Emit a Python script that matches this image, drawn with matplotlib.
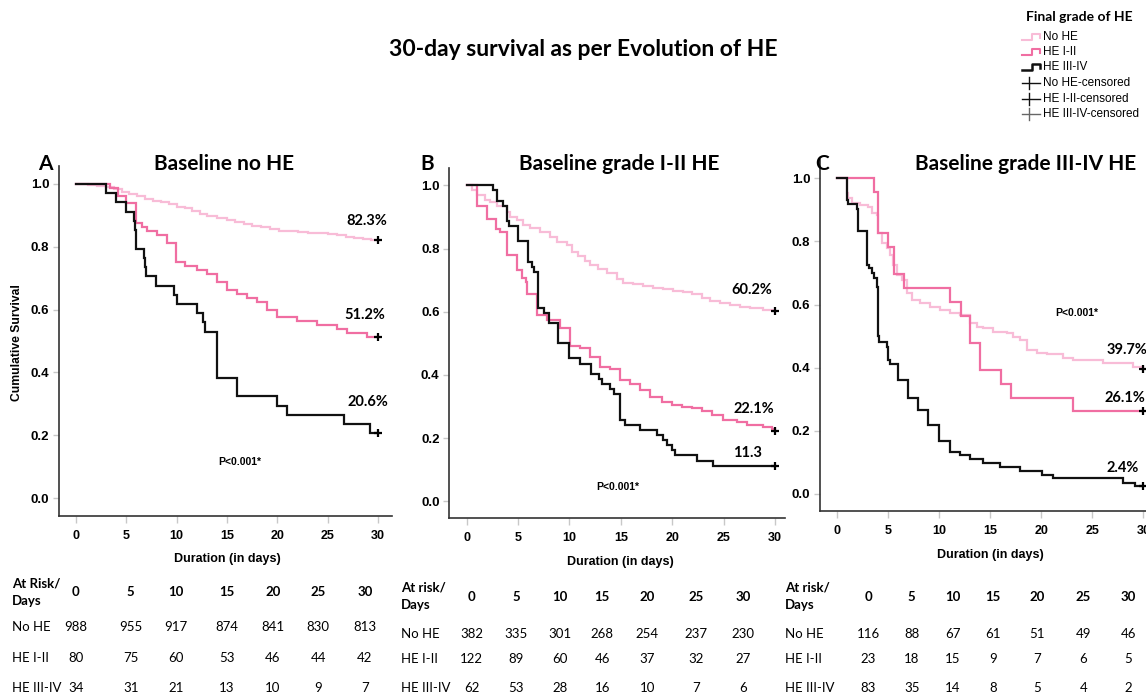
import matplotlib
matplotlib.use('Agg')
import matplotlib.pyplot as plt
from matplotlib.lines import Line2D

# ---------------- data ----------------
days_ticks = [0, 5, 10, 15, 20, 25, 30]
groups = ["No HE", "HE I-II", "HE III-IV"]

# Panel A: baseline no HE
A_noHE_t = [0, 1.2, 2.1, 3.0, 3.8, 4.6, 5.3, 6.1, 6.9, 7.6, 8.4, 9.2, 10.0, 10.8, 11.5, 12.3, 13.0, 14.0,
            15.0, 15.8, 16.7, 17.5, 18.4, 19.3, 20.2, 21.0, 22.0, 23.0, 24.2, 25.0, 25.9, 26.8, 27.6, 28.5, 29.3, 30]
A_noHE_s = [1.0, 0.997, 0.993, 0.99, 0.983, 0.975, 0.967, 0.96, 0.953, 0.947, 0.941, 0.935, 0.928, 0.922, 0.915,
            0.905, 0.898, 0.892, 0.885, 0.879, 0.873, 0.867, 0.862, 0.857, 0.851, 0.849, 0.847, 0.845, 0.843, 0.840,
            0.836, 0.832, 0.829, 0.826, 0.823, 0.823]
A_I_t = [0, 3.38, 4.2, 4.97, 5.96, 6.52, 7.02, 8.01, 9.0, 9.9, 10.82, 11.98, 12.98, 13.97, 14.96, 15.96, 16.95,
         17.94, 18.94, 19.93, 21.92, 23.9, 25.89, 26.88, 28.87, 30]
A_I_s = [1.0, 0.988, 0.963, 0.938, 0.875, 0.863, 0.850, 0.838, 0.813, 0.750, 0.738, 0.725, 0.713, 0.688, 0.663,
         0.650, 0.638, 0.625, 0.600, 0.575, 0.563, 0.550, 0.538, 0.525, 0.512, 0.512]
A_III_t = [0, 3.0, 3.94, 4.97, 5.8, 5.9, 5.96, 6.76, 6.85, 6.93, 7.95, 9.73, 10.0, 11.98, 12.64, 12.8, 14.03,
           16.0, 19.99, 20.98, 26.6, 29.2, 30]
A_III_s = [1.0, 0.971, 0.941, 0.912, 0.882, 0.853, 0.794, 0.765, 0.735, 0.706, 0.676, 0.647, 0.618, 0.588, 0.559,
           0.529, 0.382, 0.324, 0.294, 0.265, 0.235, 0.206, 0.206]

# Panel B: baseline grade I-II HE
B_noHE_t = [0, 0.49, 1.03, 1.78, 2.27, 2.92, 3.89, 4.21, 4.86, 5.51, 6.16, 7.13, 8.1, 8.75, 9.73, 10.21, 10.86,
            11.51, 12.0, 12.8, 13.62, 14.59, 15.24, 16.21, 17.18, 18.15, 19.13, 20.1, 21.07, 21.89, 22.86, 23.67,
            24.64, 25.61, 26.59, 27.56, 28.86, 29.83, 30]
B_noHE_s = [1.0, 0.985, 0.97, 0.955, 0.948, 0.935, 0.915, 0.90, 0.89, 0.874, 0.866, 0.853, 0.835, 0.822, 0.81,
            0.79, 0.775, 0.76, 0.748, 0.735, 0.722, 0.705, 0.692, 0.688, 0.682, 0.676, 0.671, 0.666, 0.662, 0.655,
            0.643, 0.635, 0.628, 0.62, 0.614, 0.611, 0.607, 0.603, 0.602]
B_I_t = [0, 1.03, 1.95, 2.85, 3.24, 3.89, 4.86, 5.35, 5.77, 5.9, 6.81, 7.78, 9.08, 10.05, 11.02, 12.0, 12.97,
         13.94, 14.91, 15.89, 16.86, 17.83, 18.97, 19.94, 20.91, 21.89, 22.86, 23.83, 24.96, 26.26, 27.24, 28.85,
         29.67, 30]
B_I_s = [1.0, 0.935, 0.892, 0.863, 0.852, 0.78, 0.732, 0.706, 0.695, 0.656, 0.59, 0.573, 0.548, 0.492, 0.484,
         0.457, 0.426, 0.418, 0.385, 0.372, 0.353, 0.33, 0.313, 0.306, 0.298, 0.295, 0.287, 0.273, 0.257, 0.25,
         0.242, 0.236, 0.228, 0.221]
B_III_t = [0, 2.59, 2.98, 3.5, 3.95, 4.15, 5.02, 6.0, 6.32, 6.55, 6.97, 7.52, 8.04, 8.91, 9.98, 11.02, 12.09,
           12.87, 13.19, 13.94, 14.36, 14.91, 15.4, 16.86, 18.48, 19.13, 19.45, 19.94, 20.26, 22.37, 23.99, 30]
B_III_s = [1.0, 0.984, 0.952, 0.935, 0.887, 0.871, 0.823, 0.758, 0.742, 0.726, 0.613, 0.597, 0.565, 0.5, 0.452,
           0.435, 0.403, 0.387, 0.371, 0.355, 0.339, 0.258, 0.242, 0.226, 0.21, 0.194, 0.177, 0.161, 0.145, 0.129,
           0.113, 0.113]

# Panel C: baseline grade III-IV HE
C_noHE_t = [0, 0.92, 1.08, 1.41, 2.23, 3.04, 3.37, 3.86, 4.02, 4.35, 4.84, 5.17, 5.49, 5.82, 6.31, 6.8, 7.29,
            8.11, 9.09, 10.07, 11.05, 12.03, 13.01, 13.67, 14.31, 15.29, 16.6, 17.25, 17.91, 18.57, 19.55, 20.53,
            22.16, 23.14, 26.08, 29.02, 30]
C_noHE_s = [1.0, 0.952, 0.936, 0.923, 0.915, 0.91, 0.89, 0.885, 0.826, 0.794, 0.778, 0.757, 0.726, 0.694, 0.678,
            0.636, 0.614, 0.604, 0.593, 0.583, 0.572, 0.567, 0.541, 0.53, 0.525, 0.514, 0.509, 0.498, 0.488, 0.456,
            0.446, 0.442, 0.43, 0.424, 0.415, 0.403, 0.397]
C_I_t = [0, 3.6, 3.96, 4.94, 5.6, 6.57, 11.05, 12.13, 13.01, 13.99, 16.05, 17.03, 23.14, 30]
C_I_s = [1.0, 0.957, 0.826, 0.783, 0.696, 0.652, 0.609, 0.565, 0.478, 0.391, 0.348, 0.304, 0.261, 0.261]
C_III_t = [0, 0.92, 1.0, 1.9, 2.0, 2.94, 3.14, 3.37, 3.63, 3.86, 3.96, 4.12, 4.9, 5.0, 5.17, 5.98, 6.96, 7.94,
           8.92, 10.0, 11.05, 12.03, 13.01, 14.31, 15.95, 17.91, 20.04, 21.18, 28.04, 29.19, 30]
C_III_s = [1.0, 0.93, 0.917, 0.904, 0.833, 0.726, 0.715, 0.699, 0.683, 0.657, 0.5, 0.482, 0.466, 0.424, 0.413,
           0.361, 0.303, 0.266, 0.218, 0.167, 0.133, 0.122, 0.109, 0.097, 0.086, 0.073, 0.06, 0.049, 0.035, 0.024,
           0.024]

A_final_labels = ["82.3%", "51.2%", "20.6%"]
B_final_labels = ["60.2%", "22.1%", "11.3"]
C_final_labels = ["39.7%", "26.1%", "2.4%"]

A_risk = [[988, 955, 917, 874, 841, 830, 813], [80, 75, 60, 53, 46, 44, 42], [34, 31, 21, 13, 10, 9, 7]]
B_risk = [[382, 335, 301, 268, 254, 237, 230], [122, 89, 60, 46, 37, 32, 27], [62, 53, 28, 16, 10, 7, 6]]
C_risk = [[116, 88, 67, 61, 51, 49, 46], [23, 18, 15, 9, 7, 6, 5], [83, 35, 14, 8, 5, 4, 2]]

panel_letters = ["A", "B", "C"]
panel_titles = ["Baseline no HE", "Baseline grade I-II HE", "Baseline grade III-IV HE"]
legend_labels = ["No HE", "HE I-II", "HE III-IV", "No HE-censored", "HE I-II-censored", "HE III-IV-censored"]

# ---------------- style ----------------
W, H = 1146, 697
C_LIGHT = "#F8BCD7"
C_PINK = "#F06EA2"
C_BLACK = "#111111"
colors = [C_LIGHT, C_PINK, C_BLACK]
CAL = "Lato"
ARI = "Liberation Sans"
TFS = 9.5

fig = plt.figure(figsize=(W / 100, H / 100), dpi=100)


def fxy(x, y):
    return x / W, 1 - y / H


def ftext(x, y, s, **kw):
    fx, fy = fxy(x, y)
    fig.text(fx, fy, s, **kw)


def add_axes_px(l, t, r, b):
    return fig.add_axes([l / W, 1 - b / H, (r - l) / W, (b - t) / H])


panels = [
    dict(box=(59, 166, 392, 516), xlim=(-1.69, 31.38), ylim=(-0.057, 1.057),
         curves=[(A_noHE_t, A_noHE_s), (A_I_t, A_I_s), (A_III_t, A_III_s)],
         finals=A_final_labels, final_pos=[(367, 221), (365, 315), (368, 402)], p_pos=(240, 462),
         risk=A_risk, xlab=(227, 559), head=("At Risk/", "Days"),
         rcol=[76, 130.7, 176, 226.7, 272.7, 318.3, 365], rlab_x=12,
         rhead_y=(584, 601), rnum_y=592, rows_y=[627, 658, 688], letter_x=45, title_x=224),
    dict(box=(449.3, 168, 785, 518), xlim=(-1.69, 30.96), ylim=(-0.053, 1.055),
         curves=[(B_noHE_t, B_noHE_s), (B_I_t, B_I_s), (B_III_t, B_III_s)],
         finals=B_final_labels, final_pos=[(752, 290), (754, 409), (748, 453)], p_pos=(618, 487),
         risk=B_risk, xlab=(620, 562), head=("At risk/", "Days"),
         rcol=[471.7, 516, 560, 602.3, 647.3, 696, 743.3], rlab_x=400.7,
         rhead_y=(588, 605), rnum_y=597, rows_y=[634, 659, 688], letter_x=427, title_x=619),
    dict(box=(820, 160, 1160, 511), xlim=(-1.70, 31.64), ylim=(-0.0545, 1.058),
         curves=[(C_noHE_t, C_noHE_s), (C_I_t, C_I_s), (C_III_t, C_III_s)],
         finals=C_final_labels, final_pos=[(1127, 350), (1125, 398), (1123, 468)], p_pos=(1077, 313),
         risk=C_risk, xlab=(990, 555), head=("At risk/", "Days"),
         rcol=[868.3, 911.7, 952.7, 993.3, 1037.3, 1083.3, 1128.3], rlab_x=785,
         rhead_y=(588, 605), rnum_y=597, rows_y=[634, 659, 688], letter_x=822, title_x=1026),
]

for i, p in enumerate(panels):
    ax = add_axes_px(*p["box"])
    ax.set_xlim(*p["xlim"])
    ax.set_ylim(*p["ylim"])
    for (t, s), col in zip(p["curves"], colors):
        ax.step(t, s, where="post", color=col, lw=1.6, solid_joinstyle="miter")
    for (t, s) in p["curves"]:
        ax.plot([t[-1]], [s[-1]], marker="+", ms=6, mew=1.6, color="black", clip_on=False)
    for sp in ["top", "right"]:
        ax.spines[sp].set_visible(False)
    for sp in ["left", "bottom"]:
        ax.spines[sp].set_color("#333333")
        ax.spines[sp].set_linewidth(1.2)
    ax.set_xticks(days_ticks)
    ax.set_yticks([0.0, 0.2, 0.4, 0.6, 0.8, 1.0])
    ax.set_xticklabels([str(d) for d in days_ticks], fontfamily=ARI, fontweight="bold", fontsize=9)
    ax.set_yticklabels(["0.0", "0.2", "0.4", "0.6", "0.8", "1.0"], fontfamily=ARI, fontweight="bold",
                       fontsize=9.5)
    ax.tick_params(axis="x", length=5, width=1, color="#c8c8c8", pad=5)
    ax.tick_params(axis="y", length=4, width=1, color="#c8c8c8", pad=3)
    ax.patch.set_alpha(0)

    # titles
    ftext(p["letter_x"], 164, panel_letters[i], fontfamily=CAL, fontweight="bold", fontsize=15,
          ha="center", va="center")
    ftext(p["title_x"], 164, panel_titles[i], fontfamily=CAL, fontweight="bold", fontsize=15,
          ha="center", va="center")
    # final labels
    for lab, (x, y) in zip(p["finals"], p["final_pos"]):
        ftext(x, y, lab, fontfamily=CAL, fontweight="bold", fontsize=10.5, ha="center", va="center")
    ftext(p["p_pos"][0], p["p_pos"][1], "P<0.001*", fontfamily=ARI, fontweight="bold", fontsize=7.5,
          ha="center", va="center")
    ftext(p["xlab"][0], p["xlab"][1], "Duration (in days)", fontfamily=ARI, fontweight="bold", fontsize=9,
          ha="center", va="center")

    # at-risk table
    ftext(p["rlab_x"], p["rhead_y"][0], p["head"][0], fontfamily=CAL, fontweight="bold", fontsize=TFS,
          ha="left", va="center")
    ftext(p["rlab_x"], p["rhead_y"][1], p["head"][1], fontfamily=CAL, fontweight="bold", fontsize=TFS,
          ha="left", va="center")
    for x, d in zip(p["rcol"], days_ticks):
        ftext(x, p["rnum_y"], str(d), fontfamily=CAL, fontweight="bold", fontsize=TFS, ha="center", va="center")
    for g, row, y in zip(groups, p["risk"], p["rows_y"]):
        ftext(p["rlab_x"], y, g, fontfamily=CAL, fontsize=TFS, ha="left", va="center")
        for x, v in zip(p["rcol"], row):
            ftext(x, y, str(v), fontfamily=CAL, fontsize=TFS, ha="center", va="center")

ftext(17, 343, "Cumulative Survival", fontfamily=ARI, fontweight="bold", fontsize=8.7, rotation=90,
      ha="center", va="center")

# main title
ftext(583, 50, "30-day survival as per Evolution of HE", fontfamily=CAL, fontweight="bold", fontsize=16.5,
      ha="center", va="center")

# legend (drawn manually)
ftext(1079, 17, "Final grade of HE", fontfamily=CAL, fontweight="bold", fontsize=10, ha="center", va="center")
leg_y = [37, 52, 67, 83, 99, 114]
icon_cols = [C_LIGHT, C_PINK, C_BLACK, "#111111", "#111111", "#666666"]
for k, (lab, y, col) in enumerate(zip(legend_labels, leg_y, icon_cols)):
    if k < 3:
        xs = [1022, 1032, 1032, 1040, 1040]
        ys = [y + 3, y + 3, y - 3, y - 3, y + 1]
        pts = [fxy(a, b) for a, b in zip(xs, ys)]
        fig.add_artist(Line2D([q[0] for q in pts], [q[1] for q in pts], color=col, lw=1.8 if k == 2 else 1.5,
                              transform=fig.transFigure))
    else:
        a0, b0 = fxy(1022, y)
        a1, b1 = fxy(1040, y)
        fig.add_artist(Line2D([a0, a1], [b0, b1], color=col, lw=1.0, transform=fig.transFigure))
        c0, d0 = fxy(1029, y - 6)
        c1, d1 = fxy(1029, y + 6)
        fig.add_artist(Line2D([c0, c1], [d0, d1], color=col, lw=1.0, transform=fig.transFigure))
    ftext(1043, y, lab, fontfamily=ARI, fontsize=8.5, ha="left", va="center")

fig.savefig("out.png", dpi=100)
